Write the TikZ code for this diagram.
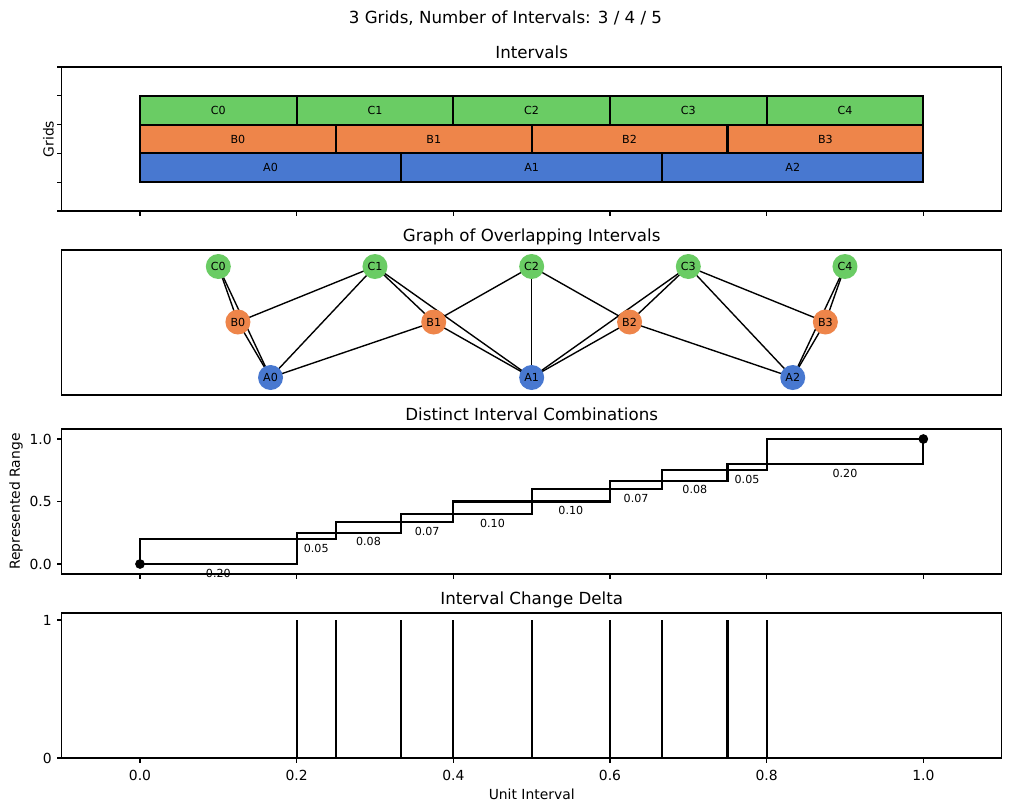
\documentclass[tikz,border=0pt]{standalone}
\usepackage{fontspec}
\setmainfont{DejaVu Sans}
\pgfdeclarelayer{bg}
\pgfdeclarelayer{edges}
\pgfsetlayers{bg,edges,main}
\definecolor{mblue}{HTML}{4878D0}
\definecolor{morange}{HTML}{EE854A}
\definecolor{mgreen}{HTML}{6ACC64}
\tikzset{
  spine/.style={line width=0.8pt, draw=black},
  tickmark/.style={line width=0.8pt, draw=black},
  ticklab/.style={font=\fontsize{10}{12}\selectfont, inner sep=0pt},
  ttl/.style={font=\fontsize{12}{14}\selectfont, anchor=base, inner sep=0pt},
  axlab/.style={font=\fontsize{10}{12}\selectfont, inner sep=0pt},
  bar/.style={draw=black, line width=1.5pt},
  barlab/.style={font=\fontsize{8}{10}\selectfont, inner sep=0pt},
  gnode/.style={circle, minimum size=18pt, inner sep=0pt, font=\fontsize{8}{10}\selectfont},
  gedge/.style={line width=1pt, draw=black},
  stair/.style={line width=1.5pt, draw=black},
  dlab/.style={font=\fontsize{8}{10}\selectfont, inner sep=0pt, anchor=north},
  dot/.style={circle, fill=black, inner sep=0pt, minimum size=7pt},
  vline/.style={line width=1.5pt, draw=black},
}
\begin{document}
\begin{tikzpicture}[x=0.72pt, y=-0.72pt]
\begin{pgfonlayer}{bg}
\fill[white] (0,0) rectangle (1011,811);
\end{pgfonlayer}
\useasboundingbox (0,0) rectangle (1011,811);

% suptitle
\node[ttl] (sup) at (505.5,23) {3 Grids, Number of Intervals: 3 / 4 / 5};

% ---------------- Panel 1: Intervals ----------------
\node[ttl] (t1) at (531.7,58.7) {Intervals};
\begin{scope}[shift={(140,0)}, xscale=783.3]
  \foreach \i/\a/\b in {0/0/0.2,1/0.2/0.4,2/0.4/0.6,3/0.6/0.8,4/0.8/1.0}{
    \draw[bar, fill=mgreen] (\a,95.8) rectangle (\b,124.6);
    \node[barlab] (lC\i) at ({(\a+\b)/2},110.2) {C\i};
  }
  \foreach \i/\a/\b in {0/0/0.25,1/0.25/0.5,2/0.5/0.75,3/0.75/1.0}{
    \draw[bar, fill=morange] (\a,124.6) rectangle (\b,153.4);
    \node[barlab] (lB\i) at ({(\a+\b)/2},139) {B\i};
  }
  \foreach \i/\a/\b in {0/0/0.33333,1/0.33333/0.66667,2/0.66667/1.0}{
    \draw[bar, fill=mblue] (\a,153.4) rectangle (\b,182.2);
    \node[barlab] (lA\i) at ({(\a+\b)/2},167.8) {A\i};
  }
\end{scope}
\foreach \v in {0,0.2,0.4,0.6,0.8,1}{
  \draw[tickmark] ({140+783.3*\v},211) -- ++(0,4.86);
}
\foreach \y in {67,95.8,124.6,153.4,182.2,211}{
  \draw[tickmark] (61.7,\y) -- ++(-4.86,0);
}
\node[axlab, rotate=90, anchor=base] (yl1) at (53.5,139) {Grids};
\draw[spine] (61.7,67) rectangle (1001.6,211);

% ---------------- Panel 2: Graph ----------------
\node[ttl] (t2) at (531.7,241.7) {Graph of Overlapping Intervals};
\begin{scope}[shift={(140,0)}, xscale=783.3]
  \node[gnode, fill=mgreen] (C0) at (0.1,266.5) {C0};
  \node[gnode, fill=mgreen] (C1) at (0.3,266.5) {C1};
  \node[gnode, fill=mgreen] (C2) at (0.5,266.5) {C2};
  \node[gnode, fill=mgreen] (C3) at (0.7,266.5) {C3};
  \node[gnode, fill=mgreen] (C4) at (0.9,266.5) {C4};
  \node[gnode, fill=morange] (B0) at (0.125,322) {B0};
  \node[gnode, fill=morange] (B1) at (0.375,322) {B1};
  \node[gnode, fill=morange] (B2) at (0.625,322) {B2};
  \node[gnode, fill=morange] (B3) at (0.875,322) {B3};
  \node[gnode, fill=mblue] (A0) at (0.16667,377.5) {A0};
  \node[gnode, fill=mblue] (A1) at (0.5,377.5) {A1};
  \node[gnode, fill=mblue] (A2) at (0.83333,377.5) {A2};
\end{scope}
\begin{pgfonlayer}{edges}
  \draw[gedge] (C0.center) -- (B0.center);
  \draw[gedge] (C0.center) -- (A0.center);
  \draw[gedge] (B0.center) -- (A0.center);
  \draw[gedge] (B0.center) -- (C1.center);
  \draw[gedge] (C1.center) -- (A0.center);
  \draw[gedge] (C1.center) -- (B1.center);
  \draw[gedge] (C1.center) -- (A1.center);
  \draw[gedge] (B1.center) -- (A0.center);
  \draw[gedge] (B1.center) -- (C2.center);
  \draw[gedge] (B1.center) -- (A1.center);
  \draw[gedge] (C2.center) -- (A1.center);
  \draw[gedge] (C2.center) -- (B2.center);
  \draw[gedge] (B2.center) -- (A1.center);
  \draw[gedge] (B2.center) -- (C3.center);
  \draw[gedge] (C3.center) -- (A1.center);
  \draw[gedge] (C3.center) -- (A2.center);
  \draw[gedge] (C3.center) -- (B3.center);
  \draw[gedge] (B2.center) -- (A2.center);
  \draw[gedge] (B3.center) -- (A2.center);
  \draw[gedge] (B3.center) -- (C4.center);
  \draw[gedge] (C4.center) -- (A2.center);
\end{pgfonlayer}
\draw[spine] (61.7,250) rectangle (1001.6,395);

% ---------------- Panel 3: Distinct Interval Combinations ----------------
\node[ttl] (t3) at (531.7,420.7) {Distinct Interval Combinations};
\begin{scope}[shift={(140,564)}, xscale=783.3, yscale=-125]
  \foreach \a/\b/\l [count=\k] in {0/0.2/0.20, 0.2/0.25/0.05, 0.25/0.33333/0.08, 0.33333/0.4/0.07, 0.4/0.5/0.10, 0.5/0.6/0.10, 0.6/0.66667/0.07, 0.66667/0.75/0.08, 0.75/0.8/0.05, 0.8/1/0.20}{
    \draw[stair] (\a,\a) rectangle (\b,\b);
    \node[dlab] (dl\k) at ({(\a+\b)/2},{\a-0.036}) {\l};
  }
  \node[dot] (d0) at (0,0) {};
  \node[dot] (d1) at (1,1) {};
\end{scope}
\foreach \v in {0,0.2,0.4,0.6,0.8,1}{
  \draw[tickmark] ({140+783.3*\v},574) -- ++(0,4.86);
}
\foreach \v/\t in {0/0.0,0.5/0.5,1/1.0}{
  \draw[tickmark] (61.7,{564-125*\v}) -- ++(-4.86,0);
  \node[ticklab, anchor=east] at (52,{564-125*\v}) {\t};
}
\node[axlab, rotate=90, anchor=base] (yl3) at (20,501.5) {Represented Range};
\draw[spine] (61.7,429) rectangle (1001.6,574);

% ---------------- Panel 4: Interval Change Delta ----------------
\node[ttl] (t4) at (531.7,604.7) {Interval Change Delta};
\foreach \v in {0.2,0.25,0.33333,0.4,0.5,0.6,0.66667,0.75,0.8}{
  \draw[vline] ({140+783.3*\v},758) -- ({140+783.3*\v},620);
}
\foreach \y/\t in {758/0,620/1}{
  \draw[tickmark] (61.7,\y) -- ++(-4.86,0);
  \node[ticklab, anchor=east] at (52,\y) {\t};
}
\foreach \v/\t in {0/0.0,0.2/0.2,0.4/0.4,0.6/0.6,0.8/0.8,1/1.0}{
  \draw[tickmark] ({140+783.3*\v},758) -- ++(0,4.86);
  \node[ticklab, anchor=north] at ({140+783.3*\v},770) {\t};
}
\node[axlab] (xl4) at (531.7,794) {Unit Interval};
\draw[spine] (61.7,613) rectangle (1001.6,758);
\end{tikzpicture}
\end{document}
